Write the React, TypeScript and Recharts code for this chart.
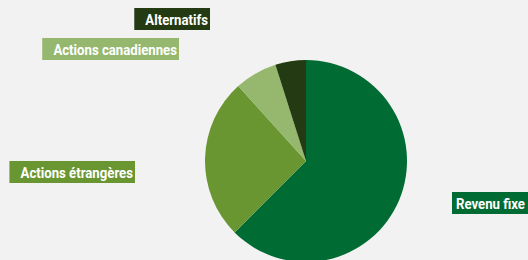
import { PieChart, Pie, Cell } from 'recharts';

const categories = ['Revenu fixe', 'Actions étrangères', 'Actions canadiennes', 'Alternatifs'];
const shares = [62.5, 25.8, 6.8, 4.9];
const colors = ['#006b33', '#699631', '#95b86e', '#233a13'];
// label box anchor relative to the pie centre: [x, y, side]
const labelAnchors: [number, number, 'left' | 'right'][] = [
  [146, 42, 'right'],
  [-171, 11, 'left'],
  [-127, -112, 'left'],
  [-96, -142, 'left'],
];

const data = categories.map((name, i) => ({ name, value: shares[i] }));

const FONT = 'bold 15px Roboto, sans-serif';
const SQUEEZE = 0.88;

function measure(text: string): number {
  const ctx = document.createElement('canvas').getContext('2d');
  if (!ctx) return text.length * 7;
  ctx.font = FONT;
  return ctx.measureText(text).width * SQUEEZE;
}

function BoxLabel(props: any) {
  const { cx, cy, index } = props;
  const [dx, dy, side] = labelAnchors[index];
  const name = categories[index];
  const w = measure(name);
  const h = 22;
  const x0 = cx + dx;
  const y0 = cy + dy;
  const boxW = w + 13;
  const boxX = side === 'left' ? x0 - boxW : x0;
  const textX = side === 'left' ? x0 - 2 : x0 + 4;
  return (
    <g>
      <rect x={boxX} y={y0 - h / 2} width={boxW} height={h} fill={colors[index]} />
      <g transform={`translate(${textX} ${y0 + 5.5}) scale(${SQUEEZE} 1)`}>
        <text
          x={0}
          y={0}
          textAnchor={side === 'left' ? 'end' : 'start'}
          fill="#ffffff"
          style={{ font: FONT }}
        >
          {name}
        </text>
      </g>
    </g>
  );
}

export default function App() {
  return (
    <div style={{ position: 'absolute', left: 0, top: 0, width: 528, height: 260, background: '#f2f2f2' }}>
      <PieChart width={528} height={260} margin={{ top: 0, right: 0, bottom: 0, left: 0 }}>
        <Pie
          data={data}
          dataKey="value"
          nameKey="name"
          cx={306}
          cy={161}
          outerRadius={101}
          startAngle={90}
          endAngle={-270}
          stroke="none"
          labelLine={false}
          label={BoxLabel}
          isAnimationActive={false}
        >
          {data.map((entry, i) => (
            <Cell key={entry.name} fill={colors[i]} />
          ))}
        </Pie>
      </PieChart>
    </div>
  );
}
